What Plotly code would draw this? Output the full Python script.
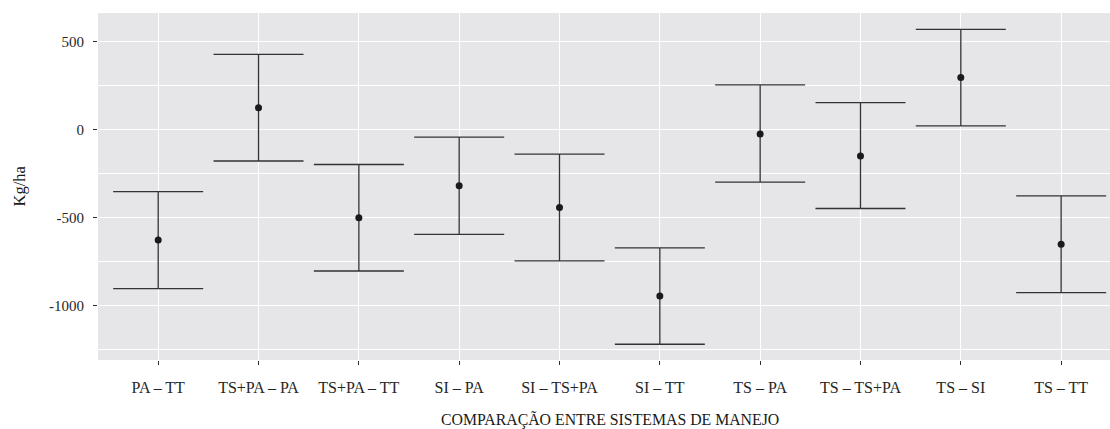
import plotly.graph_objects as go

categories = ["PA – TT", "TS+PA – PA", "TS+PA – TT", "SI – PA", "SI – TS+PA",
              "SI – TT", "TS – PA", "TS – TS+PA", "TS – SI", "TS – TT"]
means = [-629, 123, -503, -321, -444, -947, -26, -151, 294, -653]
lower = [-905, -180, -805, -597, -747, -1221, -300, -450, 19, -928]
upper = [-354, 426, -200, -45, -141, -673, 252, 152, 568, -378]

y_ticks = [-1000, -500, 0, 500]
y_tick_labels = ["-1000", "-500", "0", "500"]

xpos = list(range(1, len(categories) + 1))
err_plus = [u - m for u, m in zip(upper, means)]
err_minus = [m - l for m, l in zip(means, lower)]

FONT = "Liberation Serif, Times New Roman, serif"
BG = "#E6E6E8"

fig = go.Figure()
fig.add_trace(go.Scatter(
    x=xpos, y=means, mode="markers",
    marker=dict(size=7, color="#1a1a1a"),
    error_y=dict(type="data", symmetric=False, array=err_plus, arrayminus=err_minus,
                 color="#333333", thickness=1.3, width=45),
    showlegend=False, hoverinfo="skip",
))

fig.update_layout(
    width=1110, height=429,
    margin=dict(l=98, r=0, t=13, b=69),
    paper_bgcolor="white", plot_bgcolor=BG,
    font=dict(family=FONT, size=14, color="#333333"),
    xaxis=dict(
        range=[0.4, 10.487], tickmode="array", tickvals=xpos, ticktext=categories,
        showgrid=True, gridcolor="white", gridwidth=1.1, zeroline=False,
        ticks="outside", ticklen=4, tickcolor="#333333", tickwidth=1,
        tickfont=dict(family=FONT, size=16, color="#262626"), showline=False,
        ticklabelstandoff=9,
    ),
    yaxis=dict(
        range=[-1310.4, 660.6], tickmode="array", tickvals=y_ticks, ticktext=y_tick_labels,
        showgrid=True, gridcolor="white", gridwidth=1.1, zeroline=False,
        ticks="outside", ticklen=4, tickcolor="#333333", tickwidth=1,
        tickfont=dict(family=FONT, size=15, color="#262626"), showline=False,
        ticklabelstandoff=6,
        minor=dict(tickvals=[-1250, -750, -250, 250], showgrid=True,
                   gridcolor="white", gridwidth=0.55, ticks=""),
    ),
    annotations=[
        dict(text="Kg/ha", xref="paper", yref="paper", x=0, y=0.5, xshift=-79,
             textangle=-90, showarrow=False, xanchor="center", yanchor="middle",
             font=dict(family=FONT, size=16.5, color="#1a1a1a")),
        dict(text="COMPARAÇÃO ENTRE SISTEMAS DE MANEJO", xref="paper", yref="paper",
             x=0.506, y=0, yshift=-60, showarrow=False, xanchor="center", yanchor="middle",
             font=dict(family=FONT, size=15.8, color="#1a1a1a")),
    ],
)

fig.write_html("out.html", config={"displayModeBar": False},
               post_script="document.body.style.margin='0';document.body.style.overflow='hidden';")
